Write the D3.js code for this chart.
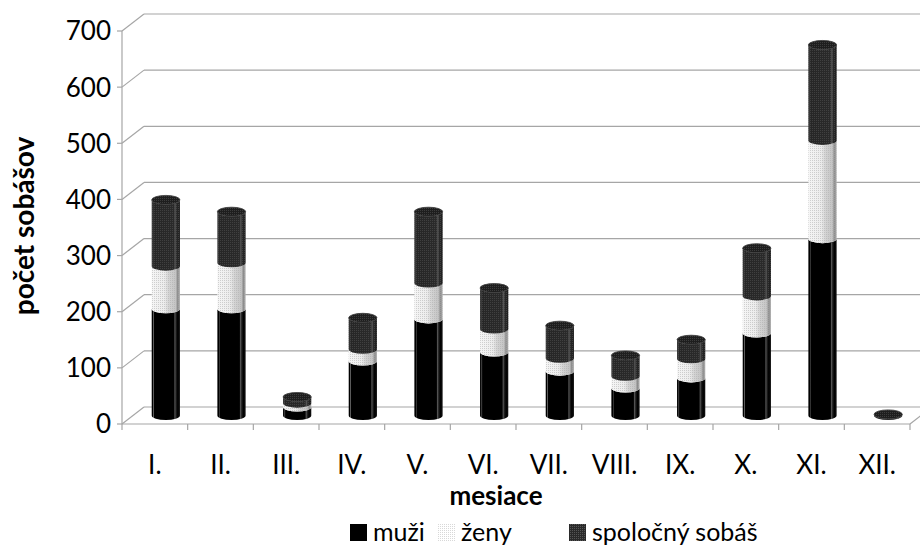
<!DOCTYPE html>
<html>
<head>
<meta charset="utf-8">
<script src="https://cdn.jsdelivr.net/npm/d3@7"></script>
<style>
  body { margin: 0; background: #fff; }
  svg text { font-family: Lato, "Open Sans", sans-serif; fill: #000; }
</style>
</head>
<body>
<svg id="chart" width="920" height="547"></svg>
<script>
// mesiace (months) and the three stacked series
var months = ["I.", "II.", "III.", "IV.", "V.", "VI.", "VII.", "VIII.", "IX.", "X.", "XI.", "XII."];
var muzi = [190, 190, 15, 97, 172, 113, 79, 49, 67, 147, 315, 0];
var zeny = [76, 82, 7, 21, 64, 41, 23, 21, 34, 66, 175, 0];
var spolocny = [118, 91, 11, 56, 127, 73, 58, 37, 34, 85, 170, 2];
var seriesNames = ["muži", "ženy", "spoločný sobáš"];
var yTicks = [0, 100, 200, 300, 400, 500, 600, 700];

var svg = d3.select("#chart");

// 3d box: front plane + depth offset
var depthX = 22, depthY = -17;
var x = d3.scaleBand().domain(months).range([122, 910]).paddingInner(0.57).paddingOuter(0.285);
var xFront = d3.scaleBand().domain(months).range([122, 910]);
var y = d3.scaleLinear().domain([0, 700]).range([424, 31]);

var defs = svg.append("defs");

// cylinder shading gradients
function gradient(id, stops) {
    var g = defs.append("linearGradient").attr("id", id)
        .attr("x1", 0).attr("x2", 1).attr("y1", 0).attr("y2", 0);
    stops.forEach(function(s) {
        g.append("stop").attr("offset", s[0]).attr("stop-color", s[1]);
    });
}
gradient("gMuzi", [[0, "#000"], [0.04, "#000"], [0.06, "#666"], [0.09, "#000"], [0.78, "#000"], [0.82, "#555"], [0.86, "#222"], [0.92, "#000"], [1, "#111"]]);
gradient("gZeny", [[0, "#f6f6f6"], [0.45, "#ececec"], [0.6, "#d4d4d4"], [0.85, "#c4c4c4"], [0.92, "#8a8a8a"], [1, "#b0b0b0"]]);
gradient("gSpol", [[0, "#2a2a2a"], [0.05, "#3a3a3a"], [0.08, "#262626"], [0.78, "#2a2a2a"], [0.83, "#555"], [0.88, "#2a2a2a"], [1, "#1c1c1c"]]);

function dots(id, bg, dot) {
    var p = defs.append("pattern").attr("id", id).attr("patternUnits", "userSpaceOnUse")
        .attr("width", 2).attr("height", 2);
    if (bg) p.append("rect").attr("width", 2).attr("height", 2).attr("fill", bg);
    p.append("rect").attr("width", 1).attr("height", 1).attr("fill", dot);
}
dots("pDark", null, "rgba(80,80,80,0.6)");
dots("pLight", null, "rgba(170,170,170,0.5)");
dots("pLegLight", "#fff", "#d8d8d8");
dots("pLegDark", "#2a2a2a", "#555");

var fills = ["url(#gMuzi)", "url(#gZeny)", "url(#gSpol)"];
var textures = [null, "url(#pLight)", "url(#pDark)"];

// back wall gridlines + left wall diagonals
var grid = svg.append("g").attr("stroke", "#a6a6a6").attr("stroke-width", 1.2).attr("fill", "none");
yTicks.forEach(function(t) {
    grid.append("line")
        .attr("x1", 122 + depthX).attr("x2", 920)
        .attr("y1", y(t) + depthY).attr("y2", y(t) + depthY);
    grid.append("line")
        .attr("x1", 122).attr("x2", 122 + depthX)
        .attr("y1", y(t)).attr("y2", y(t) + depthY);
});
// floor right edge
grid.append("line").attr("x1", 910).attr("y1", y(0)).attr("x2", 910 + depthX).attr("y2", y(0) + depthY);

// front axes
var ax = svg.append("g").attr("stroke", "#a6a6a6").attr("stroke-width", 1.2);
ax.append("line").attr("x1", 122).attr("x2", 122).attr("y1", y(700)).attr("y2", y(0));
ax.append("line").attr("x1", 122).attr("x2", 910).attr("y1", y(0)).attr("y2", y(0));
yTicks.forEach(function(t) {
    ax.append("line").attr("x1", 117).attr("x2", 122).attr("y1", y(t)).attr("y2", y(t));
});
months.concat(["end"]).forEach(function(m, i) {
    var xx = 122 + i * xFront.step();
    ax.append("line").attr("x1", xx).attr("x2", xx).attr("y1", y(0)).attr("y2", y(0) + 6);
});

// y tick labels
svg.append("g").selectAll("text").data(yTicks).enter().append("text")
    .attr("x", 111).attr("y", function(d) { return y(d); })
    .attr("dy", "0.36em")
    .attr("text-anchor", "end")
    .style("font-size", "26px")
    .text(function(d) { return d; });

// x tick labels
svg.append("g").selectAll("text").data(months).enter().append("text")
    .attr("x", function(d) { return xFront(d) + xFront.bandwidth() / 2; })
    .attr("y", 474)
    .attr("text-anchor", "middle")
    .style("font-size", "26px")
    .text(function(d) { return d; });

// axis titles
svg.append("text").attr("transform", "translate(34,226) rotate(-90)")
    .attr("text-anchor", "middle")
    .style("font-size", "28px").style("font-weight", "bold")
    .text("počet sobášov");
svg.append("text").attr("x", 496).attr("y", 505)
    .attr("text-anchor", "middle")
    .style("font-size", "26px").style("font-weight", "bold")
    .text("mesiace");

// stacked cylinders at mid depth
var data = months.map(function(m, i) {
    return { month: m, muzi: muzi[i], zeny: zeny[i], spol: spolocny[i] };
});
var stack = d3.stack().keys(["muzi", "zeny", "spol"]);
var layers = stack(data);

var rx = x.bandwidth() / 2, ry = 4.5;
function yc(v) { return y(v) + depthY / 2; }
function cx(m) { return x(m) + rx + depthX / 2; }

function segPath(m, v0, v1) {
    var x0 = cx(m) - rx, x1 = cx(m) + rx;
    var yb = yc(v0), yt = yc(v1);
    return "M" + x0 + "," + yt + "L" + x0 + "," + yb +
        "A" + rx + "," + ry + " 0 0 0 " + x1 + "," + yb +
        "L" + x1 + "," + yt +
        "A" + rx + "," + ry + " 0 0 1 " + x0 + "," + yt + "Z";
}

var bars = svg.append("g");
data.forEach(function(d, i) {
    var g = bars.append("g");
    layers.forEach(function(layer, k) {
        var s = layer[i];
        if (s[1] - s[0] <= 0) return;
        g.append("path").attr("d", segPath(d.month, s[0], s[1])).attr("fill", fills[k]);
        if (textures[k]) g.append("path").attr("d", segPath(d.month, s[0], s[1])).attr("fill", textures[k]);
    });
    // top cap
    var total = d.muzi + d.zeny + d.spol;
    g.append("ellipse").attr("cx", cx(d.month)).attr("cy", yc(total))
        .attr("rx", rx).attr("ry", ry)
        .attr("fill", "#1e1e1e").attr("stroke", "#3a3a3a").attr("stroke-width", 0.8);
    g.append("ellipse").attr("cx", cx(d.month)).attr("cy", yc(total))
        .attr("rx", rx).attr("ry", ry).attr("fill", "url(#pDark)");
});

// legend
var legendFill = ["#000", "url(#pLegLight)", "url(#pLegDark)"];
var legendX = [350, 438, 569];
var legend = svg.append("g");
seriesNames.forEach(function(name, k) {
    legend.append("rect").attr("x", legendX[k]).attr("y", 524)
        .attr("width", 17).attr("height", 17).attr("fill", legendFill[k]);
    legend.append("text").attr("x", legendX[k] + 23).attr("y", 541)
        .style("font-size", "25px")
        .text(name);
});
</script>
</body>
</html>
